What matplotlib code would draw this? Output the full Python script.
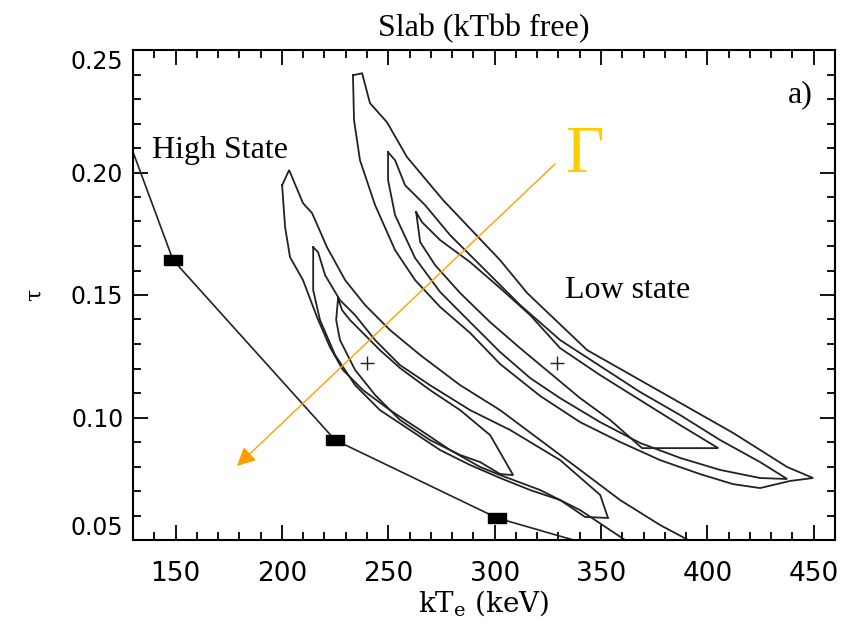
"""Slab (kTbb free): tau vs kTe confidence contours, high/low state."""

import matplotlib
matplotlib.use("Agg")
import matplotlib.pyplot as plt
from matplotlib.ticker import MultipleLocator

# ---------------------------------------------------------------------------
# Data
# ---------------------------------------------------------------------------

# high state track with its three fitted points
high_kte = [130.0, 148.8, 225.0, 301.1, 337.0]
high_tau = [0.2084, 0.1643, 0.0908, 0.0590, 0.0500]
high_pts_kte = [148.8, 225.0, 301.1]
high_pts_tau = [0.1643, 0.0908, 0.0590]

# best-fit centres of the two contour sets
best_kte = [240.0, 329.3]
best_tau = [0.1222, 0.1222]

# left contour set (outer, middle, inner)
left_outer_kte = [200.1, 203.4, 209.9, 214.2, 221.2, 229.7, 239.1, 250.8, 265.0, 283.8,
                  302.6, 321.4, 340.2, 359.0, 377.8, 391.0, 396.6, 361.3, 361.3, 340.2,
                  321.4, 302.6, 293.2, 279.1, 265.0, 250.8, 238.1, 228.7, 222.6, 216.5,
                  209.9, 203.8, 201.5, 200.1]
left_outer_tau = [0.1948, 0.2010, 0.1875, 0.1834, 0.1695, 0.1561, 0.1459, 0.1357, 0.1255, 0.1132,
                  0.1030, 0.0908, 0.0786, 0.0663, 0.0561, 0.0500, 0.0467, 0.0467, 0.0500, 0.0622,
                  0.0704, 0.0765, 0.0798, 0.0867, 0.0949, 0.1030, 0.1112, 0.1194, 0.1287, 0.1410,
                  0.1561, 0.1655, 0.1777, 0.1948]

left_mid_kte = [214.7, 217.0, 220.3, 227.3, 234.4, 243.8, 255.5, 269.6, 288.5, 307.3,
                330.8, 349.6, 353.3, 342.5, 337.8, 330.8, 316.7, 302.6, 288.5, 274.4,
                260.2, 246.1, 234.4, 225.0, 217.9, 214.7, 214.7]
left_mid_tau = [0.1695, 0.1675, 0.1581, 0.1479, 0.1418, 0.1316, 0.1214, 0.1132, 0.1030, 0.0949,
                0.0826, 0.0684, 0.0590, 0.0594, 0.0622, 0.0663, 0.0704, 0.0753, 0.0806, 0.0867,
                0.0949, 0.1030, 0.1132, 0.1255, 0.1398, 0.1520, 0.1695]

left_in_kte = [226.4, 228.3, 232.0, 239.1, 246.1, 255.5, 269.6, 283.8, 297.9, 308.7,
               302.6, 293.2, 283.8, 269.6, 255.5, 243.8, 234.4, 227.3, 225.5, 226.4]
left_in_tau = [0.1487, 0.1438, 0.1398, 0.1336, 0.1275, 0.1202, 0.1112, 0.1030, 0.0928, 0.0765,
               0.0769, 0.0818, 0.0847, 0.0908, 0.0990, 0.1092, 0.1194, 0.1316, 0.1398, 0.1487]

# right contour set (outer, middle, inner)
right_outer_kte = [233.4, 237.7, 241.4, 249.4, 258.8, 275.8, 302.6, 315.3, 343.5, 382.5,
                   412.1, 437.5, 449.7, 438.9, 424.8, 412.1, 396.6, 377.8, 359.0, 340.2,
                   321.4, 302.6, 288.5, 274.4, 262.6, 253.2, 243.8, 236.7, 233.9, 233.4]
right_outer_tau = [0.2397, 0.2405, 0.2283, 0.2205, 0.2063, 0.1887, 0.1642, 0.1508, 0.1275, 0.1083,
                   0.0937, 0.0798, 0.0753, 0.0741, 0.0712, 0.0728, 0.0769, 0.0826, 0.0900, 0.0981,
                   0.1088, 0.1218, 0.1345, 0.1451, 0.1561, 0.1683, 0.1867, 0.2050, 0.2214, 0.2397]

right_mid_kte = [249.9, 253.2, 257.9, 267.3, 279.1, 293.2, 312.0, 330.8, 349.6, 368.4,
                 387.2, 406.0, 424.8, 437.5, 424.8, 406.0, 387.2, 368.4, 349.6, 330.8,
                 316.7, 302.6, 288.5, 274.4, 262.6, 253.2, 249.9, 249.9]
right_mid_tau = [0.2083, 0.2050, 0.1948, 0.1867, 0.1744, 0.1622, 0.1459, 0.1316, 0.1210, 0.1104,
                 0.1010, 0.0908, 0.0818, 0.0749, 0.0753, 0.0786, 0.0835, 0.0896, 0.0981, 0.1079,
                 0.1161, 0.1267, 0.1389, 0.1512, 0.1651, 0.1826, 0.1969, 0.2083]

right_in_kte = [263.1, 265.9, 274.4, 288.5, 302.6, 316.7, 330.8, 349.6, 368.4, 387.2,
                405.1, 387.2, 369.3, 354.3, 340.2, 326.1, 312.0, 297.9, 283.8, 272.0,
                265.0, 263.1]
right_in_tau = [0.1838, 0.1797, 0.1724, 0.1634, 0.1528, 0.1418, 0.1283, 0.1173, 0.1071, 0.0969,
                0.0875, 0.0875, 0.0875, 0.0990, 0.1079, 0.1181, 0.1283, 0.1389, 0.1508, 0.1622,
                0.1716, 0.1838]

contours = [
    (left_outer_kte, left_outer_tau),
    (left_mid_kte, left_mid_tau),
    (left_in_kte, left_in_tau),
    (right_outer_kte, right_outer_tau),
    (right_mid_kte, right_mid_tau),
    (right_in_kte, right_in_tau),
]

# Gamma direction arrow (start, end)
arrow_start = (328.4, 0.2035)
arrow_end = (178.9, 0.0802)

# ---------------------------------------------------------------------------
# Plot
# ---------------------------------------------------------------------------

SERIF = ["Liberation Serif", "DejaVu Serif"]

fig = plt.figure(figsize=(8.56, 6.24), dpi=100)
ax = fig.add_axes([133 / 856, 84 / 624, 702 / 856, 490 / 624])

for kte, tau in contours:
    ax.plot(kte, tau, color="#222222", lw=1.3, solid_joinstyle="miter")

ax.plot(high_kte, high_tau, color="#222222", lw=1.2)
rect = [(-2, -1), (2, -1), (2, 1), (-2, 1), (-2, -1)]
ax.plot(high_pts_kte, high_pts_tau, ls="none", marker=rect, ms=13, color="black")
ax.plot(best_kte, best_tau, ls="none", marker="+", ms=10, mew=1.0, color="#222222")

ax.annotate("", xy=arrow_end, xytext=arrow_start,
            arrowprops=dict(arrowstyle="-|>", color="#FFA000", lw=1.0,
                            mutation_scale=28, shrinkA=0, shrinkB=0))
ax.text(342.1, 0.2071, "Γ", color="#FFCC00", fontsize=48, family=SERIF,
        ha="center", va="center")

ax.text(138.9, 0.2059, "High State", fontsize=23, family=SERIF, va="baseline")
ax.text(333.1, 0.1487, "Low state", fontsize=23, family=SERIF, va="baseline")
ax.text(438.0, 0.2287, "a)", fontsize=23, family=SERIF, va="baseline")

ax.set_xlim(130, 460)
ax.set_ylim(0.05, 0.25)
ax.xaxis.set_major_locator(MultipleLocator(50))
ax.xaxis.set_minor_locator(MultipleLocator(10))
ax.yaxis.set_major_locator(MultipleLocator(0.05))
ax.yaxis.set_minor_locator(MultipleLocator(0.01))
ax.yaxis.set_major_formatter(plt.FormatStrFormatter("%.2f"))
ax.tick_params(which="both", direction="in", top=True, right=True, width=1.3)
ax.tick_params(which="major", length=11)
ax.tick_params(which="minor", length=6)
ax.tick_params(axis="x", labelsize=19, pad=15)
ax.tick_params(axis="y", labelsize=17, pad=7)
for spine in ax.spines.values():
    spine.set_linewidth(1.5)

# the end labels of the tau axis sit inside the frame, as in the original
fig.canvas.draw()
for tick in ax.yaxis.get_major_ticks():
    if abs(tick.get_loc() - 0.25) < 1e-6:
        tick.label1.set_verticalalignment("top")
    elif abs(tick.get_loc() - 0.05) < 1e-6:
        tick.label1.set_verticalalignment("bottom")

ax.set_title("Slab (kTbb free)", fontsize=23, family=SERIF, pad=10)
ax.set_xlabel("kT$_\\mathregular{e}$ (keV)", fontsize=20, family="DejaVu Serif", labelpad=1)
ax.set_ylabel("τ", fontsize=16, family="DejaVu Serif", labelpad=18)

fig.savefig("out.png", dpi=100)
